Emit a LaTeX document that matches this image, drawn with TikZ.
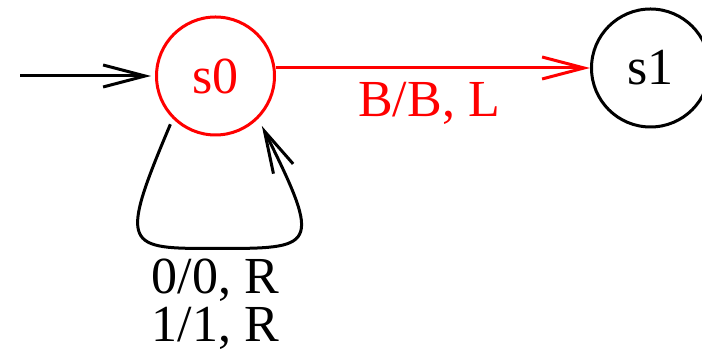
\documentclass[tikz,border=0pt]{standalone}
\usepackage{fontspec}
\setmainfont{Liberation Serif}
\usetikzlibrary{arrows.meta,positioning}

\begin{document}
\begin{tikzpicture}[
    x=0.5pt, y=-0.5pt,
    font=\fontsize{26}{24}\selectfont,
    state/.style={circle, draw, line width=1.5pt, minimum size=59pt, inner sep=0pt},
    trans/.style={line width=1.5pt, -{Straight Barb[length=21pt, width=11pt, line width=1.5pt]}}
]
    \useasboundingbox (0,0) rectangle (702,362);

    \node[state, red] (s0) at (215.5,76) {s0};
    \node[state, right=157pt of s0, yshift=4pt] (s1) {s1};

    % start arrow
    \coordinate[left=67.5pt of s0] (init);
    \draw[trans, shorten >=2pt] (init) -- (s0);

    % s0 -> s1
    \draw[trans, red] (s0.east |- s1.west) -- node[below=3pt, xshift=-2pt] {B/B, L} (s1.west);

    % self loop on s0
    \coordinate[below=56pt of s0] (loopbot);
    \draw[trans, shorten <=3pt, shorten >=4pt] (s0.-135)
        .. controls +(-55,130) and +(-90,0) .. (loopbot)
        node[below=1pt, align=center] {0/0, R\\1/1, R}
        .. controls +(100,0) and +(65,130) .. (s0.-45);
\end{tikzpicture}
\end{document}
